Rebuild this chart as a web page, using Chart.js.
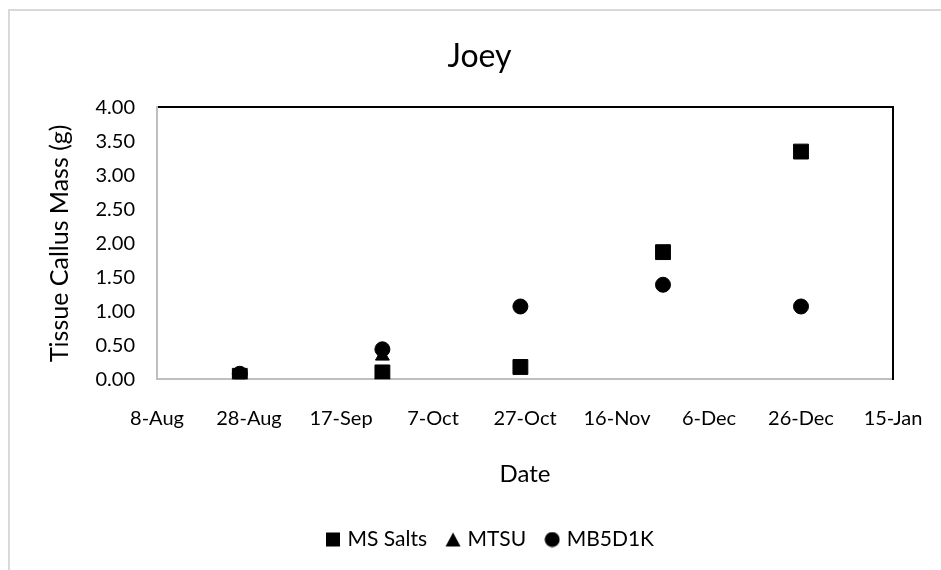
<!DOCTYPE html>
<html>
<head>
  <title>Joey</title>
  <script src="https://cdn.jsdelivr.net/npm/chart.js"></script>
  <style>
    body {
      margin: 0;
      background: #fff;
      overflow: hidden;
    }
    .frame {
      position: absolute;
      left: 8px;
      top: 9px;
      width: 960px;
      height: 600px;
      border: 2px solid #d9d9d9;
    }
    .chart {
      position: absolute;
      left: 0;
      top: 0;
      width: 941px;
      height: 570px;
    }
  </style>
</head>
<body>
  <div class="frame"></div>
  <div class="chart">
    <canvas id="myChart" width="941" height="570"></canvas>
  </div>
  <script>
    // sample dates, one per month
    const dates = ['2019-08-26', '2019-09-26', '2019-10-26', '2019-11-26', '2019-12-26'];
    const msSalts = [0.05, 0.10, 0.18, 1.87, 3.35];
    const mtsu = [0.06, 0.34, null, null, null];
    const mb5d1k = [0.08, 0.44, 1.07, 1.39, 1.07];

    const startDate = '2019-08-08';
    const endDate = '2020-01-15';
    const tickStep = 20;
    const yTicks = [0, 0.5, 1, 1.5, 2, 2.5, 3, 3.5, 4];

    const months = ['Jan', 'Feb', 'Mar', 'Apr', 'May', 'Jun', 'Jul', 'Aug', 'Sep', 'Oct', 'Nov', 'Dec'];
    const DAY = 86400000;
    const t0 = Date.parse(startDate);
    const dayOf = s => Math.round((Date.parse(s) - t0) / DAY);
    const fmtDay = d => {
      const dt = new Date(t0 + d * DAY);
      return dt.getUTCDate() + '-' + months[dt.getUTCMonth()];
    };
    const pts = vals => dates.map((s, i) => ({ x: dayOf(s), y: vals[i] })).filter(p => p.y !== null);

    // small marker images for the legend so all three look the same size
    function icon(shape) {
      const c = document.createElement('canvas');
      c.width = 16; c.height = 16;
      const g = c.getContext('2d');
      g.fillStyle = '#000';
      g.beginPath();
      if (shape === 'rect') g.rect(1, 1, 14, 14);
      else if (shape === 'triangle') { g.moveTo(8, 1); g.lineTo(15.5, 15); g.lineTo(0.5, 15); g.closePath(); }
      else g.arc(8, 8, 7.5, 0, Math.PI * 2);
      g.fill();
      return c;
    }
    const icons = { rect: icon('rect'), triangle: icon('triangle'), circle: icon('circle') };

    // the legend sits a little right of centre in the original
    const legendShift = {
      id: 'legendShift',
      afterLayout: c => { c.legend.left += 12; c.legend.right += 12; }
    };

    const font = 'Lato, "Open Sans", sans-serif';

    const ctx = document.getElementById('myChart').getContext('2d');
    const chart = new Chart(ctx, {
      type: 'scatter',
      data: {
        datasets: [
          {
            label: 'MS Salts',
            data: pts(msSalts),
            pointStyle: 'rect',
            pointRadius: 10.5,
            backgroundColor: '#000',
            borderColor: '#000',
            order: 1
          },
          {
            label: 'MTSU',
            data: pts(mtsu),
            pointStyle: 'triangle',
            pointRadius: 8,
            backgroundColor: '#000',
            borderColor: '#000',
            order: 2
          },
          {
            label: 'MB5D1K',
            data: pts(mb5d1k),
            pointStyle: 'circle',
            pointRadius: 7.5,
            backgroundColor: '#000',
            borderColor: '#000',
            order: 3
          }
        ]
      },
      plugins: [legendShift],
      options: {
        responsive: false,
        animation: false,
        layout: { padding: { left: 20, right: 2, top: 10, bottom: 10 } },
        plugins: {
          title: {
            display: true,
            text: 'Joey',
            color: '#000',
            font: { family: font, size: 32, weight: 'normal' },
            padding: { top: 27, bottom: 32 }
          },
          legend: {
            position: 'bottom',
            labels: {
              usePointStyle: true,
              color: '#000',
              boxWidth: 8,
              boxHeight: 16,
              padding: 22,
              font: { family: font, size: 21 },
              generateLabels: c => Chart.defaults.plugins.legend.labels.generateLabels(c).map(l => {
                l.pointStyle = icons[c.data.datasets[l.datasetIndex].pointStyle];
                return l;
              })
            }
          },
          tooltip: { enabled: false }
        },
        scales: {
          x: {
            type: 'linear',
            min: 0,
            max: dayOf(endDate),
            grid: { display: false, drawTicks: false },
            border: { color: '#bfbfbf', width: 2 },
            afterFit: axis => { axis.paddingLeft = 0; axis.paddingRight = 0; },
            ticks: {
              stepSize: tickStep,
              color: '#000',
              padding: 27,
              font: { family: font, size: 20 },
              callback: v => fmtDay(v)
            },
            title: {
              display: true,
              text: 'Date',
              color: '#000',
              font: { family: font, size: 24 },
              padding: { top: 3, bottom: 18 }
            }
          },
          x2: {
            type: 'linear',
            position: 'top',
            min: 0,
            max: dayOf(endDate),
            grid: { display: false, drawTicks: false },
            border: { color: '#000', width: 2 },
            ticks: { display: false }
          },
          y: {
            min: 0,
            max: 4,
            grid: { display: false, drawTicks: false },
            border: { color: '#bfbfbf', width: 2 },
            afterBuildTicks: axis => { axis.ticks = yTicks.map(v => ({ value: v })); },
            afterFit: axis => { axis.width = 137; },
            ticks: {
              color: '#000',
              padding: 22,
              font: { family: font, size: 20 },
              callback: v => Number(v).toFixed(2)
            },
            title: {
              display: true,
              text: 'Tissue Callus Mass (g)',
              color: '#000',
              font: { family: font, size: 25 },
              padding: { top: 25, bottom: 4 }
            }
          },
          y2: {
            position: 'right',
            min: 0,
            max: 4,
            grid: { display: false, drawTicks: false },
            border: { color: '#000', width: 2 },
            ticks: { display: false },
            afterFit: axis => { axis.width = 46; }
          }
        }
      }
    });
  </script>
</body>
</html>
